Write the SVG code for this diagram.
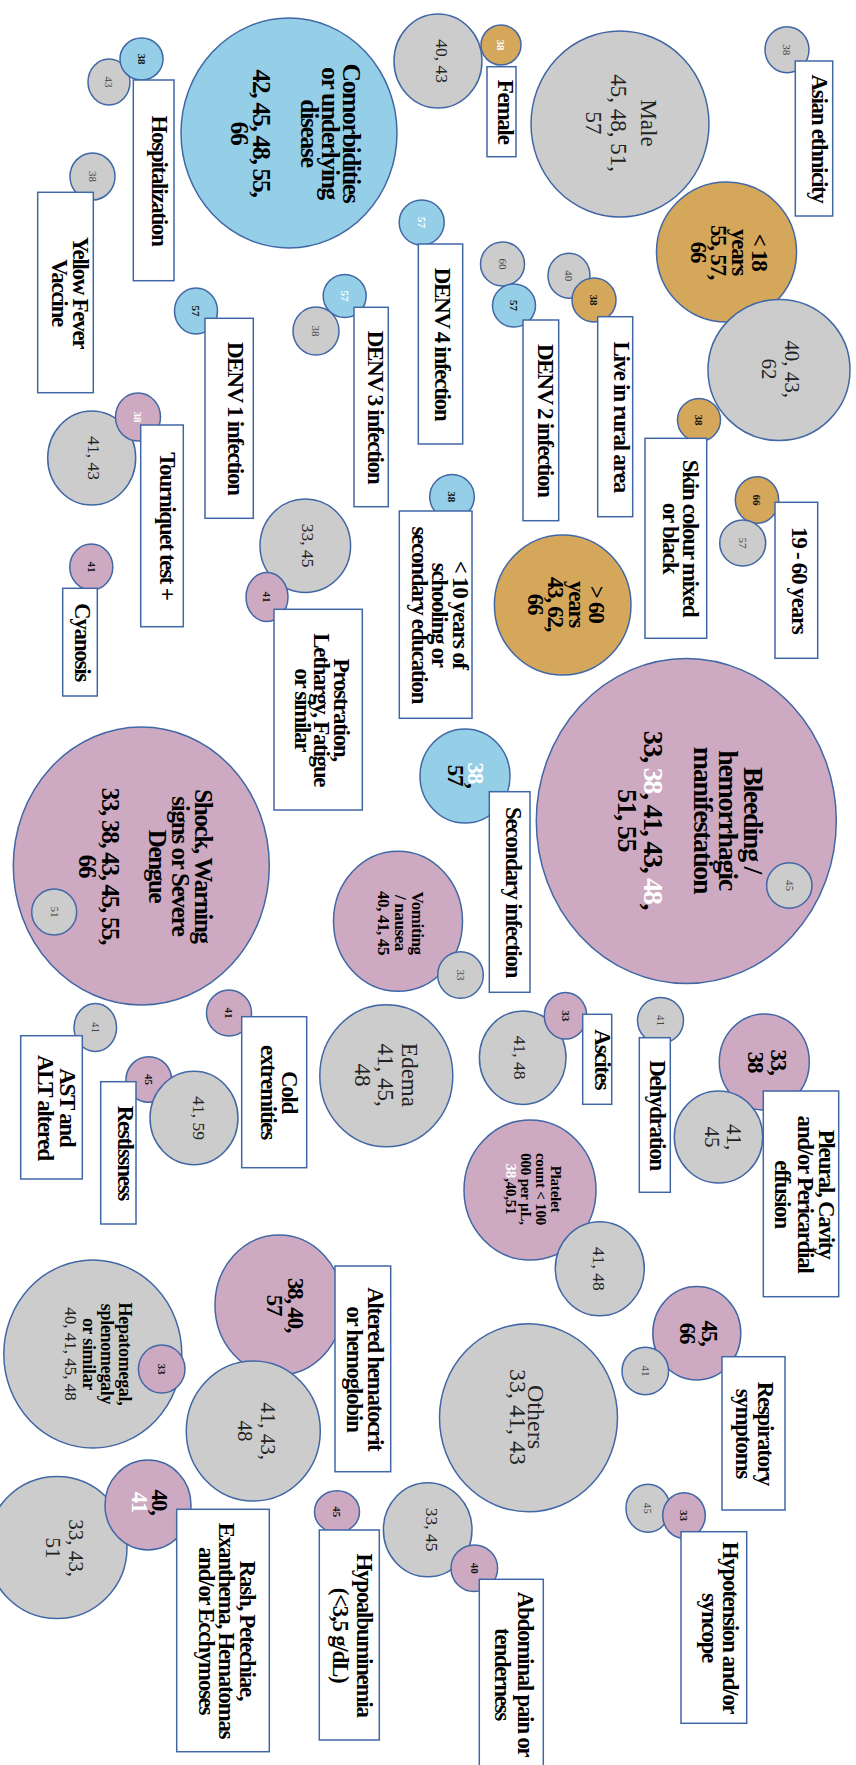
<svg xmlns="http://www.w3.org/2000/svg" width="856" height="1765" viewBox="0 0 856 1765">
<style>
.bl{fill:#95cfe7;stroke:#4167a6;stroke-width:1.5}
.gr{fill:#cccccc;stroke:#4167a6;stroke-width:1.5}
.or{fill:#d5a75b;stroke:#4167a6;stroke-width:1.5}
.pk{fill:#cdaac1;stroke:#4167a6;stroke-width:1.5}
.bx{fill:#ffffff;stroke:#4167a6;stroke-width:1.5}
text{font-family:"Liberation Serif","Times New Roman",serif;text-anchor:middle;fill:#000}
.b{font-weight:bold;letter-spacing:-1.3px;font-size:23px}
.r{font-size:17.5px;fill:#222}
.s{font-size:11px;fill:#444}
.sb{font-weight:bold;fill:#111}
.w{fill:#ffffff}
</style>
<rect width="856" height="1765" fill="#ffffff"/>
<g id="connectors"></g>

<g id="hospitalization">
<ellipse class="gr" cx="109" cy="82" rx="21" ry="23"/>
<text class="s" transform="translate(105.4,82) rotate(90)">43</text>
<ellipse class="bl" cx="141.5" cy="59" rx="21.5" ry="21"/>
<text class="s sb" transform="translate(137.9,59) rotate(90)">38</text>
<rect class="bx" x="133.3" y="80" width="40.7" height="200.7"/>
<text class="b" transform="translate(151.5,180.5) rotate(90)">Hospitalization</text>
</g>

<g id="comorbidities">
<ellipse class="bl" cx="289" cy="133" rx="108" ry="115"/>
<text class="b" style="font-size:25.5px" transform="translate(343,133) rotate(90)"><tspan x="0" y="0">Comorbidities</tspan><tspan x="0" y="21">or underlying</tspan><tspan x="0" y="42">disease</tspan><tspan x="0" y="90">42, 45, 48, 55,</tspan><tspan x="0" y="112">66</tspan></text>
</g>

<g id="yellow-fever">
<ellipse class="gr" cx="92.5" cy="176.5" rx="22.5" ry="23.5"/>
<text class="s" transform="translate(88.9,176.5) rotate(90)">38</text>
<rect class="bx" x="37.7" y="192.3" width="55.6" height="200.4"/>
<text class="b" transform="translate(72.5,292.5) rotate(90)"><tspan x="0" y="0">Yellow Fever</tspan><tspan x="0" y="21">Vaccine</tspan></text>
</g>

<g id="female">
<ellipse class="gr" cx="438" cy="61" rx="44" ry="47"/>
<text class="r" transform="translate(436,61) rotate(90)">40, 43</text>
<ellipse class="or" cx="501" cy="45" rx="20" ry="20"/>
<text class="s sb w" transform="translate(497.4,45) rotate(90)">38</text>
<rect class="bx" x="487" y="66.7" width="29" height="90"/>
<text class="b" transform="translate(498,111.7) rotate(90)">Female</text>
</g>

<g id="male">
<ellipse class="gr" cx="620" cy="124" rx="89" ry="93"/>
<text class="r" style="font-size:23px" transform="translate(641,123) rotate(90)"><tspan x="0" y="0">Male</tspan><tspan x="0" y="30">45, 48, 51,</tspan><tspan x="0" y="55">57</tspan></text>
</g>

<g id="asian">
<ellipse class="gr" cx="787" cy="49.7" rx="22" ry="23"/>
<text class="s" transform="translate(783.4,49.7) rotate(90)">38</text>
<rect class="bx" x="795.3" y="61" width="37.4" height="155"/>
<text class="b" transform="translate(811.5,138.5) rotate(90)">Asian ethnicity</text>
</g>

<g id="under-18">
<ellipse class="or" cx="726.5" cy="252" rx="70" ry="70"/>
<text class="b" transform="translate(752,252) rotate(90)"><tspan x="0" y="0">&lt; 18</tspan><tspan x="0" y="20.5">years</tspan><tspan x="0" y="41">55, 57,</tspan><tspan x="0" y="61.5">66</tspan></text>
</g>

<g id="group-40-43-62">
<ellipse class="gr" cx="779" cy="370" rx="71" ry="70.5"/>
<text class="r" style="font-size:21px" transform="translate(785,369) rotate(90)"><tspan x="0" y="0">40, 43,</tspan><tspan x="0" y="23">62</tspan></text>
</g>

<g id="denv4">
<ellipse class="bl" cx="421.7" cy="222.5" rx="22.5" ry="22.5"/>
<text class="s sb w" transform="translate(418.1,222.5) rotate(90)">57</text>
<rect class="bx" x="418.3" y="244" width="44.4" height="200"/>
<text class="b" transform="translate(435,344) rotate(90)">DENV 4 infection</text>
</g>

<g id="denv2">
<ellipse class="gr" cx="502.5" cy="264" rx="22" ry="22"/>
<text class="s" transform="translate(498.9,264) rotate(90)">60</text>
<ellipse class="bl" cx="514" cy="305.5" rx="21.5" ry="21.5"/>
<text class="s sb" transform="translate(510.4,305.5) rotate(90)">57</text>
<rect class="bx" x="523" y="320" width="35.7" height="200.7"/>
<text class="b" transform="translate(537.5,420.3) rotate(90)">DENV 2 infection</text>
</g>

<g id="rural">
<ellipse class="gr" cx="569" cy="275.7" rx="21" ry="22.5"/>
<text class="s" transform="translate(565.4,275.7) rotate(90)">40</text>
<ellipse class="or" cx="594" cy="300" rx="22" ry="22"/>
<text class="s sb" transform="translate(590.4,300) rotate(90)">38</text>
<rect class="bx" x="597.7" y="316.7" width="35" height="200"/>
<text class="b" transform="translate(613.5,416.7) rotate(90)">Live in rural area</text>
</g>

<g id="denv3">
<ellipse class="bl" cx="344.7" cy="296" rx="21.5" ry="21.5"/>
<text class="s sb w" transform="translate(341.1,296) rotate(90)">57</text>
<ellipse class="gr" cx="316" cy="331" rx="23" ry="24"/>
<text class="s" transform="translate(312.4,331) rotate(90)">38</text>
<rect class="bx" x="354" y="307.3" width="34.3" height="199.4"/>
<text class="b" transform="translate(368,407) rotate(90)">DENV 3 infection</text>
</g>

<g id="denv1">
<ellipse class="bl" cx="196" cy="311" rx="21.5" ry="23"/>
<text class="s sb" transform="translate(192.4,311) rotate(90)">57</text>
<rect class="bx" x="205" y="318.3" width="48.3" height="200"/>
<text class="b" transform="translate(228,418.3) rotate(90)">DENV 1 infection</text>
</g>

<g id="tourniquet">
<ellipse class="gr" cx="91.7" cy="458" rx="44" ry="47"/>
<text class="r" transform="translate(88,458) rotate(90)">41, 43</text>
<ellipse class="pk" cx="138" cy="417" rx="22.5" ry="24"/>
<text class="s sb w" transform="translate(134.4,417) rotate(90)">38</text>
<rect class="bx" x="140.7" y="425" width="42.6" height="201.7"/>
<text class="b" transform="translate(159.8,525.8) rotate(90)">Tourniquet test +</text>
</g>

<g id="cyanosis">
<ellipse class="pk" cx="91.3" cy="567" rx="21.5" ry="23"/>
<text class="s sb" transform="translate(87.7,567) rotate(90)">41</text>
<rect class="bx" x="62.7" y="588.3" width="34.6" height="107.7"/>
<text class="b" transform="translate(74.8,642) rotate(90)">Cyanosis</text>
</g>

<g id="prostration">
<ellipse class="gr" cx="305.3" cy="545.7" rx="45.3" ry="46.7"/>
<text class="r" transform="translate(301.5,545.7) rotate(90)">33, 45</text>
<ellipse class="pk" cx="267" cy="597" rx="21" ry="24.5"/>
<text class="s sb" transform="translate(263.4,597) rotate(90)">41</text>
<rect class="bx" x="274" y="609.3" width="88.3" height="200.7"/>
<text class="b" transform="translate(333.5,709.7) rotate(90)"><tspan x="0" y="0">Prostration,</tspan><tspan x="0" y="19.5">Lethargy, Fatigue</tspan><tspan x="0" y="39">or similar</tspan></text>
</g>

<g id="schooling">
<ellipse class="bl" cx="452" cy="496.7" rx="22.3" ry="22.3"/>
<text class="s sb" transform="translate(448.4,496.7) rotate(90)">38</text>
<rect class="bx" x="399.3" y="511" width="72.7" height="207.3"/>
<text class="b" transform="translate(452.5,614.7) rotate(90)"><tspan x="0" y="0">&lt; 10 years of</tspan><tspan x="0" y="20.5">schooling or</tspan><tspan x="0" y="41">secondary education</tspan></text>
</g>

<g id="over-60">
<ellipse class="or" cx="562.7" cy="605" rx="68.3" ry="70"/>
<text class="b" transform="translate(589,604) rotate(90)"><tspan x="0" y="0">&gt; 60</tspan><tspan x="0" y="20.5">years</tspan><tspan x="0" y="41">43, 62,</tspan><tspan x="0" y="61.5">66</tspan></text>
</g>

<g id="skin">
<ellipse class="or" cx="699" cy="420" rx="21.5" ry="21.5"/>
<text class="s sb" transform="translate(695.4,420) rotate(90)">38</text>
<rect class="bx" x="645" y="438.3" width="61.7" height="200"/>
<text class="b" transform="translate(682.5,538) rotate(90)"><tspan x="0" y="0">Skin colour mixed</tspan><tspan x="0" y="20">or black</tspan></text>
</g>

<g id="age-19-60">
<ellipse class="or" cx="757" cy="500" rx="21.7" ry="23.3"/>
<text class="s sb" transform="translate(753.4,500) rotate(90)">66</text>
<ellipse class="gr" cx="742.7" cy="543" rx="23" ry="23"/>
<text class="s" transform="translate(739.1,543) rotate(90)">57</text>
<rect class="bx" x="775" y="502.3" width="42.7" height="156"/>
<text class="b" transform="translate(791.5,580.3) rotate(90)">19 - 60 years</text>
</g>

<g id="bleeding">
<ellipse class="pk" cx="686.3" cy="821" rx="150" ry="162.5"/>
<text class="b" style="font-size:28px" transform="translate(744,820) rotate(90)"><tspan x="0" y="0">Bleeding /</tspan><tspan x="0" y="25">hemorrhagic</tspan><tspan x="0" y="50">manifestation</tspan><tspan x="0" y="100">33, <tspan class="w">38</tspan>, 41, 43, <tspan class="w">48</tspan>,</tspan><tspan x="0" y="126">51, 55</tspan></text>
<ellipse class="gr" cx="789.3" cy="885.5" rx="22.7" ry="22.7"/>
<text class="s" transform="translate(785.7,885.5) rotate(90)">45</text>
</g>

<g id="secondary">
<ellipse class="bl" cx="465" cy="776" rx="45" ry="47"/>
<text class="b" transform="translate(467.5,775) rotate(90)"><tspan x="0" y="0"><tspan class="w">38</tspan>,</tspan><tspan x="0" y="20">57</tspan></text>
<rect class="bx" x="489.3" y="791.7" width="40.7" height="200.6"/>
<text class="b" transform="translate(505.8,892) rotate(90)">Secondary infection</text>
</g>

<g id="shock">
<ellipse class="pk" cx="141.3" cy="866" rx="128" ry="139"/>
<text class="b" style="font-size:25px" transform="translate(195,866) rotate(90)"><tspan x="0" y="0">Shock, Warning</tspan><tspan x="0" y="23">signs or Severe</tspan><tspan x="0" y="46">Dengue</tspan><tspan x="0" y="93">33, 38, 43, 45, 55,</tspan><tspan x="0" y="116">66</tspan></text>
<ellipse class="gr" cx="54.2" cy="912" rx="22.5" ry="23"/>
<text class="s" transform="translate(50.6,912) rotate(90)">51</text>
</g>

<g id="vomiting">
<ellipse class="pk" cx="398" cy="921.3" rx="64.5" ry="70"/>
<text class="b" style="font-size:17px;letter-spacing:-0.4px" transform="translate(412,923) rotate(90)"><tspan x="0" y="0">Vomiting</tspan><tspan x="0" y="17">/ nausea</tspan><tspan x="0" y="34">40, 41, 45</tspan></text>
<ellipse class="gr" cx="460.5" cy="975" rx="22.8" ry="23.3"/>
<text class="s" transform="translate(456.9,975) rotate(90)">33</text>
</g>

<g id="cold">
<ellipse class="pk" cx="229" cy="1013" rx="22.5" ry="23"/>
<text class="s sb" transform="translate(225.4,1013) rotate(90)">41</text>
<rect class="bx" x="241.7" y="1016.7" width="65" height="151"/>
<text class="b" transform="translate(281.5,1092) rotate(90)"><tspan x="0" y="0">Cold</tspan><tspan x="0" y="20.5">extremities</tspan></text>
</g>

<g id="ast">
<ellipse class="gr" cx="95.3" cy="1027.5" rx="21.3" ry="24"/>
<text class="s" transform="translate(91.7,1027.5) rotate(90)">41</text>
<rect class="bx" x="20.7" y="1035.7" width="61.6" height="143.3"/>
<text class="b" transform="translate(60,1107.3) rotate(90)"><tspan x="0" y="0">AST and</tspan><tspan x="0" y="22">ALT altered</tspan></text>
</g>

<g id="restlessness">
<ellipse class="pk" cx="148.8" cy="1079.5" rx="22.8" ry="22.8"/>
<text class="s sb" transform="translate(145.2,1079.5) rotate(90)">45</text>
<ellipse class="gr" cx="194" cy="1118" rx="44" ry="46.7"/>
<text class="r" transform="translate(193,1118) rotate(90)">41, 59</text>
<rect class="bx" x="100.7" y="1081.7" width="35.3" height="142.3"/>
<text class="b" transform="translate(118,1152.8) rotate(90)">Restlssness</text>
</g>

<g id="edema">
<ellipse class="gr" cx="386.3" cy="1075.8" rx="66.5" ry="71"/>
<text class="r" style="font-size:23px" transform="translate(401.5,1075) rotate(90)"><tspan x="0" y="0">Edema</tspan><tspan x="0" y="23.5">41, 45,</tspan><tspan x="0" y="47">48</tspan></text>
</g>

<g id="ascites">
<ellipse class="gr" cx="522.7" cy="1057.7" rx="43.3" ry="46.7"/>
<text class="r" transform="translate(514,1057.7) rotate(90)">41, 48</text>
<ellipse class="pk" cx="565.5" cy="1015.7" rx="21.2" ry="23.3"/>
<text class="s sb" transform="translate(561.9,1015.7) rotate(90)">33</text>
<rect class="bx" x="582.7" y="1014.3" width="29" height="90"/>
<text class="b" transform="translate(594.5,1059.3) rotate(90)">Ascites</text>
</g>

<g id="dehydration">
<ellipse class="gr" cx="660.5" cy="1020.5" rx="23" ry="23"/>
<text class="s" transform="translate(656.9,1020.5) rotate(90)">41</text>
<rect class="bx" x="639.3" y="1037.7" width="31" height="154.6"/>
<text class="b" transform="translate(649.5,1115) rotate(90)">Dehydration</text>
</g>

<g id="pleural">
<ellipse class="pk" cx="764.3" cy="1062" rx="45" ry="48"/>
<text class="b" transform="translate(771,1062) rotate(90)"><tspan x="0" y="0">33,</tspan><tspan x="0" y="23">38</tspan></text>
<ellipse class="gr" cx="718.5" cy="1137" rx="44.2" ry="46"/>
<text class="r" style="font-size:21px" transform="translate(727,1137) rotate(90)"><tspan x="0" y="0">41,</tspan><tspan x="0" y="22">45</tspan></text>
<rect class="bx" x="763.3" y="1091" width="75.4" height="205.7"/>
<text class="b" transform="translate(819,1194) rotate(90)"><tspan x="0" y="0">Pleural, Cavity</tspan><tspan x="0" y="21.5">and/or Pericardial</tspan><tspan x="0" y="44">effusion</tspan></text>
</g>

<g id="platelet">
<ellipse class="pk" cx="530" cy="1190" rx="66" ry="70"/>
<text class="b" style="font-size:15px;letter-spacing:-0.2px" transform="translate(550.5,1189) rotate(90)"><tspan x="0" y="0">Platelet</tspan><tspan x="0" y="14.5">count &lt; 100</tspan><tspan x="0" y="29.5">000 per µL,</tspan><tspan x="0" y="44.5"><tspan class="w">38</tspan>,40,51</tspan></text>
<ellipse class="gr" cx="599.8" cy="1268.8" rx="44.5" ry="47"/>
<text class="r" transform="translate(592.5,1268.8) rotate(90)">41, 48</text>
</g>

<g id="respiratory">
<ellipse class="pk" cx="696.8" cy="1333.3" rx="44" ry="46.7"/>
<text class="b" transform="translate(702,1333) rotate(90)"><tspan x="0" y="0">45,</tspan><tspan x="0" y="22">66</tspan></text>
<ellipse class="gr" cx="645.3" cy="1371" rx="23.3" ry="23.8"/>
<text class="s" transform="translate(641.7,1371) rotate(90)">41</text>
<rect class="bx" x="722" y="1356.7" width="63" height="153.3"/>
<text class="b" transform="translate(757.5,1433.3) rotate(90)"><tspan x="0" y="0">Respiratory</tspan><tspan x="0" y="22">symptoms</tspan></text>
</g>

<g id="others">
<ellipse class="gr" cx="528.5" cy="1417.8" rx="89" ry="94"/>
<text class="r" style="font-size:24px" transform="translate(528.3,1417) rotate(90)"><tspan x="0" y="0">Others</tspan><tspan x="0" y="18.5">33, 41, 43</tspan></text>
</g>

<g id="hematocrit">
<ellipse class="pk" cx="279" cy="1305" rx="64" ry="70"/>
<text class="b" transform="translate(288,1305) rotate(90)"><tspan x="0" y="0">38, 40,</tspan><tspan x="0" y="21.5">57</tspan></text>
<ellipse class="gr" cx="253.3" cy="1431" rx="67" ry="70"/>
<text class="r" style="font-size:21px" transform="translate(261,1431) rotate(90)"><tspan x="0" y="0">41, 43,</tspan><tspan x="0" y="23.5">48</tspan></text>
<rect class="bx" x="335" y="1266" width="55.7" height="205.7"/>
<text class="b" transform="translate(368,1368.8) rotate(90)"><tspan x="0" y="0">Altered hematocrit</tspan><tspan x="0" y="21.5">or hemoglobin</tspan></text>
</g>

<g id="hepatomegaly">
<ellipse class="gr" cx="92.8" cy="1354" rx="89" ry="94"/>
<text class="b" style="font-size:18px;letter-spacing:-0.3px" transform="translate(118.5,1354) rotate(90)"><tspan x="0" y="0">Hepatomegal,</tspan><tspan x="0" y="18">splenomegaly</tspan><tspan x="0" y="35.5">or similar</tspan></text>
<text class="r" style="font-size:17px" transform="translate(65,1354) rotate(90)">40, 41, 45, 48</text>
<ellipse class="pk" cx="161.7" cy="1369" rx="23.3" ry="24"/>
<text class="s sb" transform="translate(158.1,1369) rotate(90)">33</text>
</g>

<g id="rash">
<ellipse class="gr" cx="57" cy="1547.5" rx="70" ry="71"/>
<text class="r" style="font-size:21px" transform="translate(69,1548) rotate(90)"><tspan x="0" y="0">33, 43,</tspan><tspan x="0" y="23">51</tspan></text>
<ellipse class="pk" cx="148" cy="1505" rx="43" ry="45"/>
<text class="b" transform="translate(152,1502) rotate(90)"><tspan x="0" y="0">40,</tspan><tspan x="0" y="20.5" class="w">41</tspan></text>
<rect class="bx" x="176.7" y="1509.3" width="92.6" height="242.4"/>
<text class="b" transform="translate(240,1630.5) rotate(90)"><tspan x="0" y="0">Rash, Petechiae,</tspan><tspan x="0" y="21">Exanthema, Hematomas</tspan><tspan x="0" y="41.5">and/or Ecchymoses</tspan></text>
</g>

<g id="hypoalbuminemia">
<ellipse class="pk" cx="337" cy="1511.7" rx="22.5" ry="21"/>
<text class="s sb" transform="translate(333.4,1511.7) rotate(90)">45</text>
<rect class="bx" x="319.3" y="1530" width="60" height="210"/>
<text class="b" transform="translate(356.5,1635) rotate(90)"><tspan x="0" y="0">Hypoalbuminemia</tspan><tspan x="0" y="23.5">(&lt;3,5 g/dL)</tspan></text>
</g>

<g id="abdominal">
<ellipse class="gr" cx="427.7" cy="1529.7" rx="44.3" ry="47"/>
<text class="r" transform="translate(426,1529.7) rotate(90)">33, 45</text>
<ellipse class="pk" cx="474.3" cy="1568.3" rx="23.3" ry="23.3"/>
<text class="s sb" transform="translate(470.7,1568.3) rotate(90)">40</text>
<rect class="bx" x="479.3" y="1579.3" width="64" height="190.7"/>
<text class="b" transform="translate(517.5,1674) rotate(90)"><tspan x="0" y="0">Abdominal pain or</tspan><tspan x="0" y="23">tenderness</tspan></text>
</g>

<g id="hypotension">
<ellipse class="gr" cx="648" cy="1508.3" rx="22" ry="24"/>
<text class="s" transform="translate(644.4,1508.3) rotate(90)">45</text>
<ellipse class="pk" cx="684" cy="1515.5" rx="21.3" ry="22.8"/>
<text class="s sb" transform="translate(680.4,1515.5) rotate(90)">33</text>
<rect class="bx" x="681" y="1531.7" width="65.7" height="191.6"/>
<text class="b" transform="translate(722.5,1627.5) rotate(90)"><tspan x="0" y="0">Hypotension and/or</tspan><tspan x="0" y="20.5">syncope</tspan></text>
</g>
</svg>
